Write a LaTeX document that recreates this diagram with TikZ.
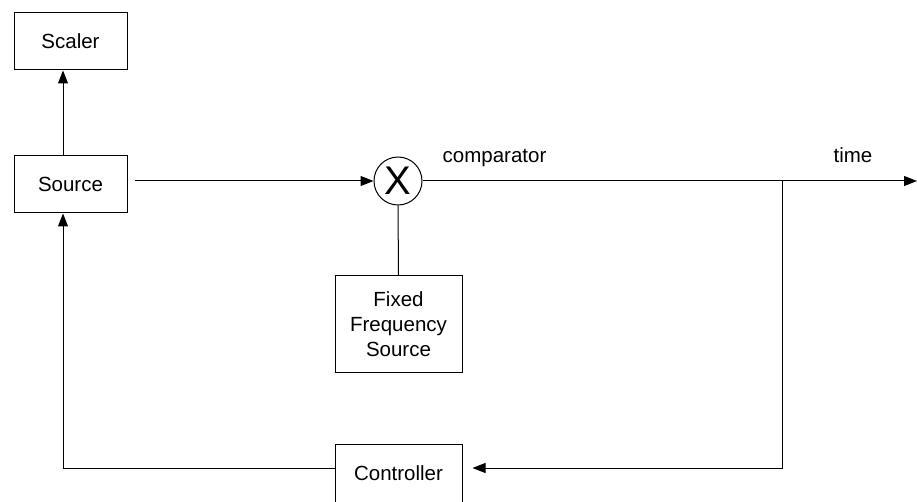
\documentclass[tikz,border=0pt]{standalone}
\usepackage{fontspec}
\setmainfont{Liberation Sans}
\usetikzlibrary{arrows.meta}
\tikzset{>={Triangle[length=13pt,width=10pt]}}
\tikzset{blk/.style={draw,line width=1pt,inner sep=0pt,align=center},
         lbl/.style={inner sep=0pt,anchor=base}}

\begin{document}
\begin{tikzpicture}[x=1pt,y=-1pt,line width=1pt,
    font=\fontsize{20.5}{25}\selectfont]
\useasboundingbox (0,0) rectangle (917,502);

\foreach \name/\txt/\px/\py/\w/\h in
    {sc/Scaler/70.5/41.5/113/57,src/Source/70.5/184.5/113/57,
     ctrl/Controller/398.5/473/127/58}
  \node[blk,minimum width=\w,minimum height=\h] (\name) at (\px,\py) {\txt};
\node[blk,minimum width=127,minimum height=96] (ffs) at (398.5,324)
  {Fixed\\Frequency\\Source};
\node[draw,circle,minimum size=48,inner sep=0pt,
      font=\fontsize{40}{40}\selectfont] (mix) at (398,181) {X};

\node[lbl] (cmp) at (494.5,163) {comparator};
\node[lbl] (tm)  at (853,163) {time};

\coordinate (out)  at (917,181);
\coordinate (tap)  at (782,181);
\coordinate (rc)   at (782,468);
\coordinate (lc)   at (63,468);

\draw[->] ([xshift=-7.5]src.north) -- ([xshift=-7.5]sc.south);
\draw[->,shorten <=7pt] (src.east |- mix.west) -- (mix.west);
\draw (mix.south) -- (ffs.north);
\draw[->] (mix.east) -- (out);
\draw[->,shorten >=10pt] (tap) -- (rc) -- (ctrl.east |- rc);
\draw[->] (ctrl.west |- rc) -- (lc) -- ([xshift=-7.5]src.south);
\end{tikzpicture}
\end{document}
